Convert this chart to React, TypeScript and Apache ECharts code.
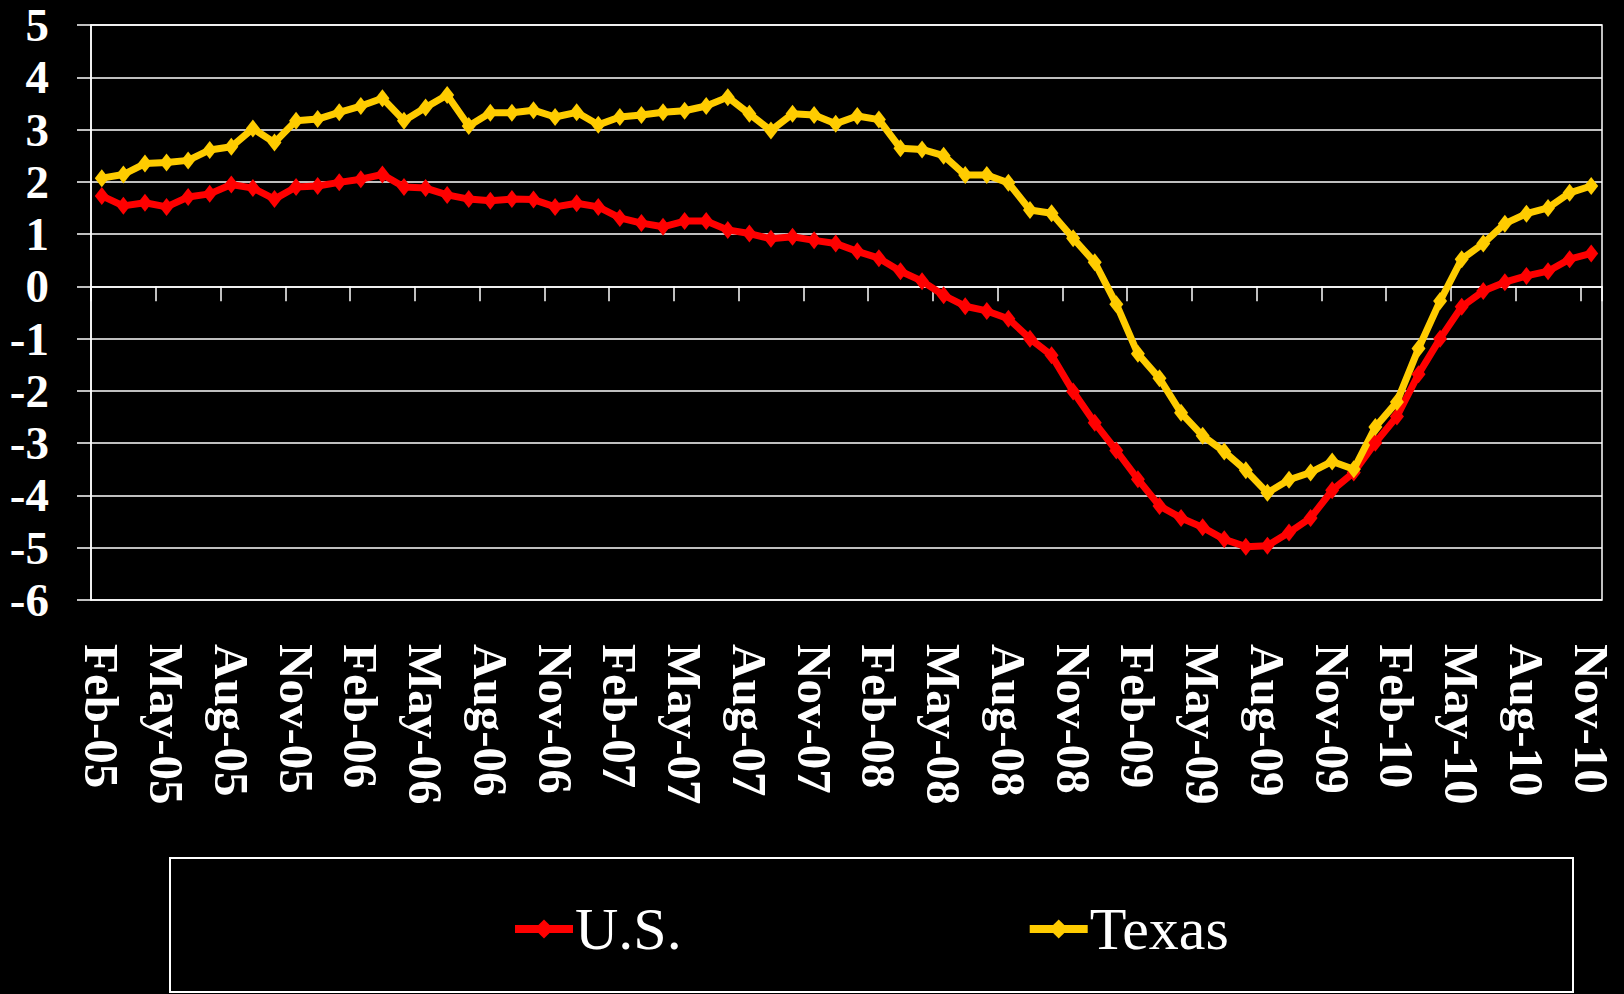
import React, { useEffect, useRef } from "react";
import * as echarts from "echarts";

const categories = [
  "Feb-05","Mar-05","Apr-05","May-05","Jun-05","Jul-05","Aug-05","Sep-05","Oct-05","Nov-05","Dec-05",
  "Jan-06","Feb-06","Mar-06","Apr-06","May-06","Jun-06","Jul-06","Aug-06","Sep-06","Oct-06","Nov-06","Dec-06",
  "Jan-07","Feb-07","Mar-07","Apr-07","May-07","Jun-07","Jul-07","Aug-07","Sep-07","Oct-07","Nov-07","Dec-07",
  "Jan-08","Feb-08","Mar-08","Apr-08","May-08","Jun-08","Jul-08","Aug-08","Sep-08","Oct-08","Nov-08","Dec-08",
  "Jan-09","Feb-09","Mar-09","Apr-09","May-09","Jun-09","Jul-09","Aug-09","Sep-09","Oct-09","Nov-09","Dec-09",
  "Jan-10","Feb-10","Mar-10","Apr-10","May-10","Jun-10","Jul-10","Aug-10","Sep-10","Oct-10","Nov-10",
];

const usValues = [
  1.73, 1.54, 1.60, 1.52, 1.71, 1.77, 1.95, 1.88, 1.67, 1.90, 1.92, 1.99, 2.05, 2.14, 1.90,
  1.88, 1.75, 1.67, 1.64, 1.67, 1.66, 1.52, 1.59, 1.52, 1.31, 1.21, 1.14, 1.25, 1.25, 1.08, 1.01, 0.91, 0.95, 0.88,
  0.82, 0.67, 0.54, 0.29, 0.10, -0.17, -0.38, -0.47, -0.62, -1.00, -1.32, -2.01, -2.61, -3.14, -3.69, -4.20, -4.43, -4.61,
  -4.84, -4.98, -4.96, -4.71, -4.43, -3.90, -3.56, -2.99, -2.49, -1.68, -1.00, -0.39, -0.09, 0.08, 0.20, 0.29, 0.52, 0.63,
];

const texasValues = [
  2.07, 2.14, 2.35, 2.37, 2.41, 2.61, 2.67, 3.02, 2.75, 3.17, 3.20, 3.33, 3.45, 3.60, 3.17,
  3.42, 3.66, 3.07, 3.32, 3.32, 3.37, 3.24, 3.33, 3.09, 3.24, 3.28, 3.33, 3.36, 3.45, 3.62, 3.30, 2.98, 3.30, 3.28,
  3.11, 3.26, 3.19, 2.64, 2.62, 2.50, 2.13, 2.13, 1.98, 1.46, 1.40, 0.92, 0.46, -0.34, -1.29, -1.76, -2.42, -2.86,
  -3.16, -3.52, -3.95, -3.70, -3.56, -3.35, -3.50, -2.69, -2.21, -1.19, -0.28, 0.52, 0.82, 1.20, 1.39, 1.50, 1.79, 1.92,
];

const seriesNames = ["U.S.", "Texas"];
const seriesColors = ["#FF0000", "#FFCC00"];

const SERIF = "'Times New Roman', 'Liberation Serif', serif";

export default function App() {
  const ref = useRef<HTMLDivElement>(null);

  useEffect(() => {
    document.body.style.margin = "0";
    document.body.style.background = "#000";
    const chart = echarts.init(ref.current!, null, { renderer: "svg" });
    const seriesData = [usValues, texasValues];
    chart.setOption({
      animation: false,
      backgroundColor: "#000000",
      grid: {
        left: 91,
        right: 22,
        top: 25,
        bottom: 394,
        show: true,
        borderColor: "#ffffff",
        borderWidth: 1.5,
      },
      legend: {
        left: 506,
        top: 894,
        itemGap: 344,
        itemWidth: 58,
        itemHeight: 24,
        data: seriesNames,
        lineStyle: { width: 8 },
        textStyle: { color: "#ffffff", fontSize: 60, fontFamily: SERIF, padding: [0, 0, 0, -3] },
      },
      graphic: [
        {
          type: "rect",
          shape: { x: 170, y: 858, width: 1403, height: 134 },
          style: { fill: "none", stroke: "#ffffff", lineWidth: 2 },
          silent: true,
        },
      ],
      xAxis: [
        {
          type: "category",
          data: categories,
          boundaryGap: true,
          axisLine: { onZero: true, lineStyle: { color: "#ffffff", width: 1.5 } },
          axisTick: { show: true, interval: 2, length: 15, lineStyle: { color: "#ffffff", width: 1.5 } },
          axisLabel: { show: false },
          splitLine: { show: false },
        },
        {
          type: "category",
          data: categories,
          position: "bottom",
          boundaryGap: true,
          axisLine: { show: false, onZero: false },
          axisTick: { show: false },
          axisLabel: {
            interval: 2,
            rotate: -90,
            margin: 44,
            color: "#ffffff",
            fontSize: 49,
            fontWeight: "bold",
            fontFamily: SERIF,
          },
          splitLine: { show: false },
        },
      ],
      yAxis: {
        type: "value",
        min: -6,
        max: 5,
        interval: 1,
        axisLine: { show: true, lineStyle: { color: "#ffffff", width: 1.5 } },
        axisTick: { show: true, length: 14, lineStyle: { color: "#ffffff", width: 1.5 } },
        axisLabel: {
          margin: 42,
          color: "#ffffff",
          fontSize: 47,
          fontWeight: "bold",
          fontFamily: SERIF,
        },
        splitLine: { show: true, lineStyle: { color: "#ffffff", width: 1.5 } },
      },
      series: seriesNames.map((name, k) => ({
        name,
        type: "line",
        xAxisIndex: 0,
        data: seriesData[k],
        symbol: "diamond",
        symbolSize: [14, 18],
        showSymbol: true,
        showAllSymbol: true,
        lineStyle: { color: seriesColors[k], width: 7 },
        itemStyle: { color: seriesColors[k] },
        emphasis: { disabled: true },
      })),
    });
    return () => chart.dispose();
  }, []);

  return (
    <div
      ref={ref}
      style={{ position: "fixed", left: 0, top: 0, width: 1624, height: 994, background: "#000" }}
    />
  );
}
